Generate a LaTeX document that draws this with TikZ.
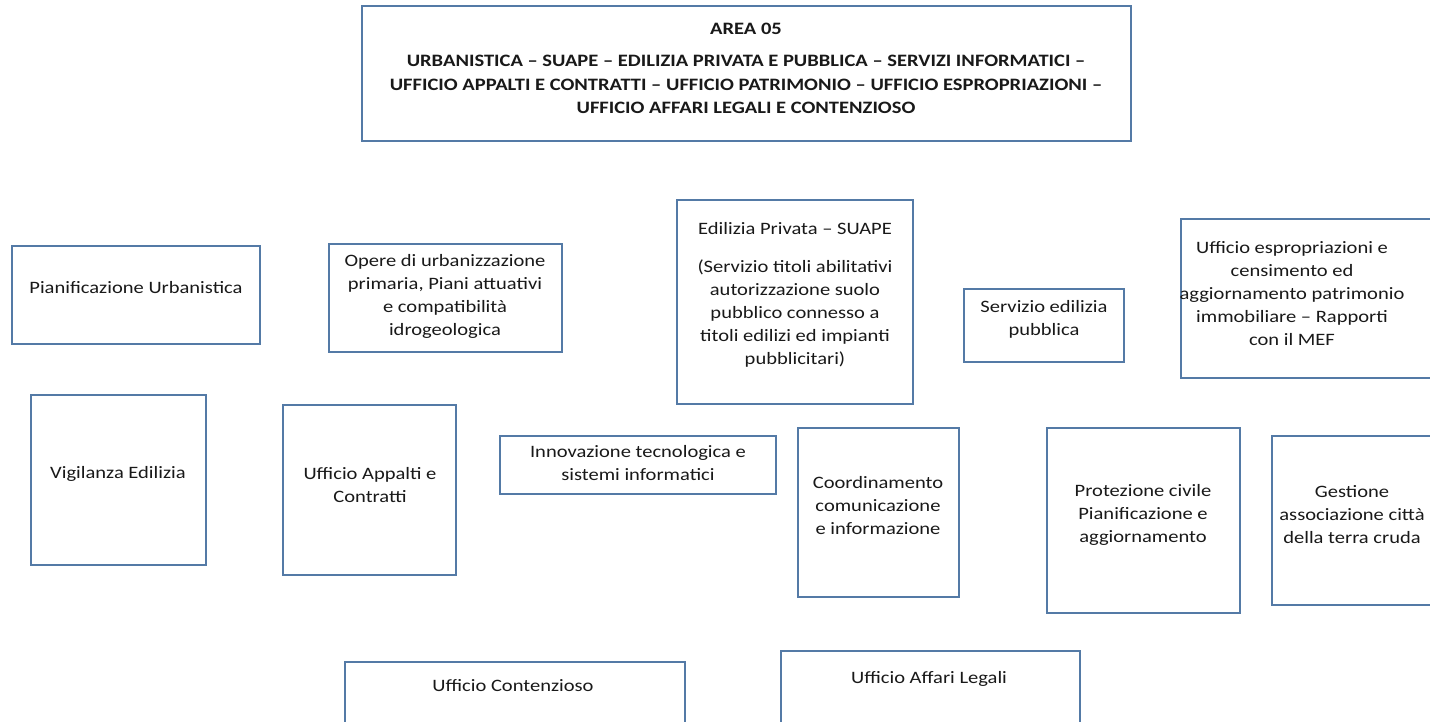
\documentclass[tikz,border=0pt]{standalone}
\usepackage{fontspec}
\setmainfont{Carlito}[FakeStretch=1.18]
\begin{document}
\begin{tikzpicture}[x=1pt,y=-1pt,
  box/.style={draw={rgb,255:red,84;green,122;blue,166}, line width=1.2pt, fill=white, inner sep=0pt},
  txt/.style={align=center, inner sep=0pt, text={rgb,255:red,25;green,25;blue,25},
    font=\fontsize{17.4}{23}\selectfont}]
\useasboundingbox (0,0) rectangle (1430,721);
\clip (0,0) rectangle (1430,721);
% boxes
\node[box, minimum width=769pt, minimum height=135pt] (area) at (746.5,73.5) {};
\node[box, minimum width=248pt, minimum height=98pt] (pu) at (136,295) {};
\node[box, minimum width=233pt, minimum height=108pt] (opere) at (445.5,298) {};
\node[box, minimum width=236pt, minimum height=204pt] (edil) at (795,302) {};
\node[box, minimum width=160pt, minimum height=73pt] (sep) at (1044,325.5) {};
\node[box, minimum width=259pt, minimum height=159pt] (espro) at (1310.5,298.5) {};
\node[box, minimum width=175pt, minimum height=170pt] (vig) at (118.5,480) {};
\node[box, minimum width=173pt, minimum height=170pt] (app) at (369.5,490) {};
\node[box, minimum width=276pt, minimum height=58pt] (inn) at (638,465) {};
\node[box, minimum width=161pt, minimum height=169pt] (coord) at (878.5,512.5) {};
\node[box, minimum width=193pt, minimum height=185pt] (prot) at (1143.5,520.5) {};
\node[box, minimum width=168pt, minimum height=169pt] (gest) at (1356,520.5) {};
\node[box, minimum width=340pt, minimum height=78pt] (cont) at (515,701) {};
\node[box, minimum width=299pt, minimum height=89pt] (legali) at (930.5,695.5) {};
% texts
\node[txt, font=\fontsize{17.4}{23.5}\selectfont\bfseries] (area-h) at (746,29) {AREA 05};
\node[txt, font=\fontsize{17.4}{23.5}\selectfont\bfseries] (area-t) at (746,84.5)
  {URBANISTICA – SUAPE – EDILIZIA PRIVATA E PUBBLICA – SERVIZI INFORMATICI –\\
   UFFICIO APPALTI E CONTRATTI – UFFICIO PATRIMONIO – UFFICIO ESPROPRIAZIONI –\\
   UFFICIO AFFARI LEGALI E CONTENZIOSO};
\node[txt] (pu-t) at (136,288) {Pianificazione Urbanistica};
\node[txt] (opere-t) at (445,296.5) {Opere di urbanizzazione\\primaria, Piani attuativi\\e compatibilità\\idrogeologica};
\node[txt] (edil-h) at (795,229) {Edilizia Privata – SUAPE};
\node[txt] (edil-t) at (795,314) {(Servizio titoli abilitativi\\autorizzazione suolo\\pubblico connesso a\\titoli edilizi ed impianti\\pubblicitari)};
\node[txt] (sep-t) at (1044,319) {Servizio edilizia\\pubblica};
\node[txt] (espro-t) at (1292,293.5) {Ufficio espropriazioni e\\censimento ed\\aggiornamento patrimonio\\immobiliare – Rapporti\\con il MEF};
\node[txt] (vig-t) at (118,474) {Vigilanza Edilizia};
\node[txt] (app-t) at (370,485.5) {Ufficio Appalti e\\Contratti};
\node[txt] (inn-t) at (638,463) {Innovazione tecnologica e\\sistemi informatici};
\node[txt] (coord-t) at (878,506) {Coordinamento\\comunicazione\\e informazione};
\node[txt] (prot-t) at (1143,515) {Protezione civile\\Pianificazione e\\aggiornamento};
\node[txt] (gest-t) at (1352,515) {Gestione\\associazione città\\della terra cruda};
\node[txt] (cont-t) at (513,686) {Ufficio Contenzioso};
\node[txt] (legali-t) at (929,679) {Ufficio Affari Legali};
\end{tikzpicture}
\end{document}
